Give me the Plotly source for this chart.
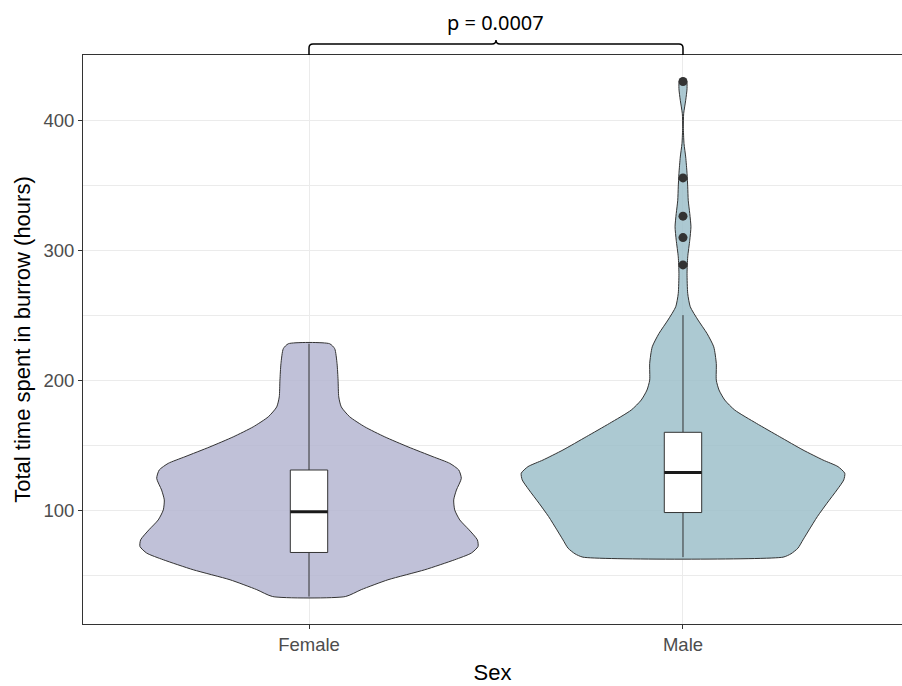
import plotly.graph_objects as go

# ---------------- data ----------------
categories = ["Female", "Male"]
cat_pos = [1, 2]

# violin outline: y levels and relative density (Female max = 1)
female_y = [33.6, 38.9, 46.5, 54.2, 61.9, 67.0, 72.1, 77.2, 84.9, 92.5, 100.2,
            107.9, 115.5, 124.5, 130.9, 136.0, 141.1, 148.7, 156.4, 164.1,
            171.8, 179.4, 187.1, 199.9, 212.7, 224.2, 228.0]
female_dens = [0.215, 0.309, 0.467, 0.685, 0.862, 0.960, 1.000, 0.996, 0.947,
               0.892, 0.862, 0.856, 0.872, 0.901, 0.886, 0.833, 0.734, 0.586,
               0.448, 0.330, 0.241, 0.191, 0.176, 0.172, 0.166, 0.152, 0.122]

male_y = [63.9, 66.5, 70.8, 77.2, 84.9, 95.1, 105.4, 115.6, 123.3, 128.4, 133.5,
          138.6, 146.3, 156.5, 166.8, 177.0, 184.7, 192.4, 200.0, 212.8, 225.6,
          235.9, 246.2, 256.4, 266.6, 282.0, 294.8, 307.6, 317.9, 328.1, 338.3,
          348.6, 358.8, 371.6, 381.9, 394.7, 404.9, 415.2, 424.2, 430.6]
male_dens = [0.592, 0.639, 0.680, 0.710, 0.746, 0.795, 0.852, 0.911, 0.951, 0.957,
             0.917, 0.828, 0.710, 0.572, 0.434, 0.306, 0.247, 0.213, 0.197, 0.197,
             0.182, 0.142, 0.089, 0.043, 0.028, 0.024, 0.028, 0.040, 0.047, 0.040,
             0.031, 0.028, 0.024, 0.016, 0.006, 0.002, 0.004, 0.016, 0.024, 0.020]

# box-plot statistics
box_q1 = [67.5, 98.2]
box_median = [98.9, 128.9]
box_q3 = [130.9, 159.9]
box_low = [33.6, 63.9]
box_high = [228.0, 250.0]

# outliers (Male)
male_outliers = [429.6, 355.5, 326.1, 309.6, 288.6]

p_label = "p = 0.0007"
y_title = "Total time spent in burrow (hours)"
x_title = "Sex"
y_ticks = [100, 200, 300, 400]

# ---------------- style ----------------
MAX_HALF = 0.452
BOX_W = 0.10
fills = ["rgba(178,179,207,0.82)", "rgba(154,189,200,0.82)"]
DARK = "#333333"
FONT = "Liberation Sans, Arial, sans-serif"
X_RANGE = [0.3957, 2.5856]
Y_RANGE = [12.5, 450]

fig = go.Figure()

violins = [(female_y, female_dens), (male_y, male_dens)]
for i, (ys, ds) in enumerate(violins):
    c = cat_pos[i]
    xr = [c + d * MAX_HALF for d in ds]
    xl = [c - d * MAX_HALF for d in ds]
    xs = xr + xl[::-1] + [xr[0]]
    yy = list(ys) + list(ys[::-1]) + [ys[0]]
    fig.add_trace(go.Scatter(
        x=xs, y=yy, mode="lines", fill="toself", fillcolor=fills[i],
        line=dict(color=DARK, width=1, shape="spline", smoothing=0.6),
        hoverinfo="skip", showlegend=False))

# box plots (drawn as scatter shapes so they sit above the violins)
for i, c in enumerate(cat_pos):
    # whiskers
    fig.add_trace(go.Scatter(
        x=[c, c, None, c, c], y=[box_low[i], box_q1[i], None, box_q3[i], box_high[i]],
        mode="lines", line=dict(color=DARK, width=1), hoverinfo="skip", showlegend=False))
    # box
    xl, xr = c - BOX_W / 2, c + BOX_W / 2
    fig.add_trace(go.Scatter(
        x=[xl, xr, xr, xl, xl], y=[box_q1[i], box_q1[i], box_q3[i], box_q3[i], box_q1[i]],
        mode="lines", fill="toself", fillcolor="white",
        line=dict(color=DARK, width=1), hoverinfo="skip", showlegend=False))
    # median
    fig.add_trace(go.Scatter(
        x=[xl, xr], y=[box_median[i]] * 2, mode="lines",
        line=dict(color="#1a1a1a", width=3), hoverinfo="skip", showlegend=False))

fig.add_trace(go.Scatter(
    x=[cat_pos[1]] * len(male_outliers), y=male_outliers, mode="markers",
    marker=dict(color=DARK, size=9), showlegend=False))

# significance bracket (drawn above the panel, in paper coords)
def px(xv):
    return (xv - X_RANGE[0]) / (X_RANGE[1] - X_RANGE[0])

plot_h = 686 - 55 - 62
def py(pix_above):
    return 1 + pix_above / plot_h

x1, x2, xm = px(cat_pos[0]), px(cat_pos[1]), px((cat_pos[0] + cat_pos[1]) / 2)
rx = 4 / 819
yb = py(11)
path = (f"M {x1},{py(0)} L {x1},{py(7)} Q {x1},{yb} {x1 + rx},{yb} "
        f"L {xm - rx},{yb} Q {xm},{yb} {xm},{py(15)} Q {xm},{yb} {xm + rx},{yb} "
        f"L {x2 - rx},{yb} Q {x2},{yb} {x2},{py(7)} L {x2},{py(0)}")
fig.add_shape(type="path", path=path, xref="paper", yref="paper",
              line=dict(color="black", width=1.5))

fig.add_annotation(x=xm, y=py(33), xref="paper", yref="paper", text=p_label,
                   showarrow=False, xanchor="center", yanchor="middle",
                   font=dict(family="Noto Sans, Open Sans, sans-serif", size=20, color="black"))

fig.update_layout(
    width=902, height=686,
    margin=dict(l=83, r=0, t=55, b=62),
    paper_bgcolor="white", plot_bgcolor="white",
    showlegend=False,
    font=dict(family=FONT),
    xaxis=dict(
        range=X_RANGE, tickmode="array", tickvals=cat_pos, ticktext=categories,
        showgrid=True, gridcolor="#EBEBEB", gridwidth=1, zeroline=False,
        showline=True, linecolor=DARK, linewidth=1, mirror=True,
        ticks="outside", ticklen=4, tickcolor=DARK,
        tickfont=dict(family=FONT, size=18.5, color="#4D4D4D"),
        title=dict(text=x_title, standoff=10, font=dict(family=FONT, size=22, color="black"))),
    yaxis=dict(
        range=Y_RANGE, tickmode="array", tickvals=y_ticks,
        showgrid=True, gridcolor="#EBEBEB", gridwidth=1, zeroline=False,
        minor=dict(tickmode="array", tickvals=[50, 150, 250, 350, 450], showgrid=True,
                   gridcolor="#EBEBEB", gridwidth=1, ticks=""),
        showline=True, linecolor=DARK, linewidth=1, mirror=False,
        ticks="outside", ticklen=4, tickcolor=DARK,
        tickfont=dict(family=FONT, size=18.5, color="#4D4D4D"),
        title=dict(text=y_title, standoff=6, font=dict(family=FONT, size=22, color="black"))),
)

fig.write_html("out.html")
